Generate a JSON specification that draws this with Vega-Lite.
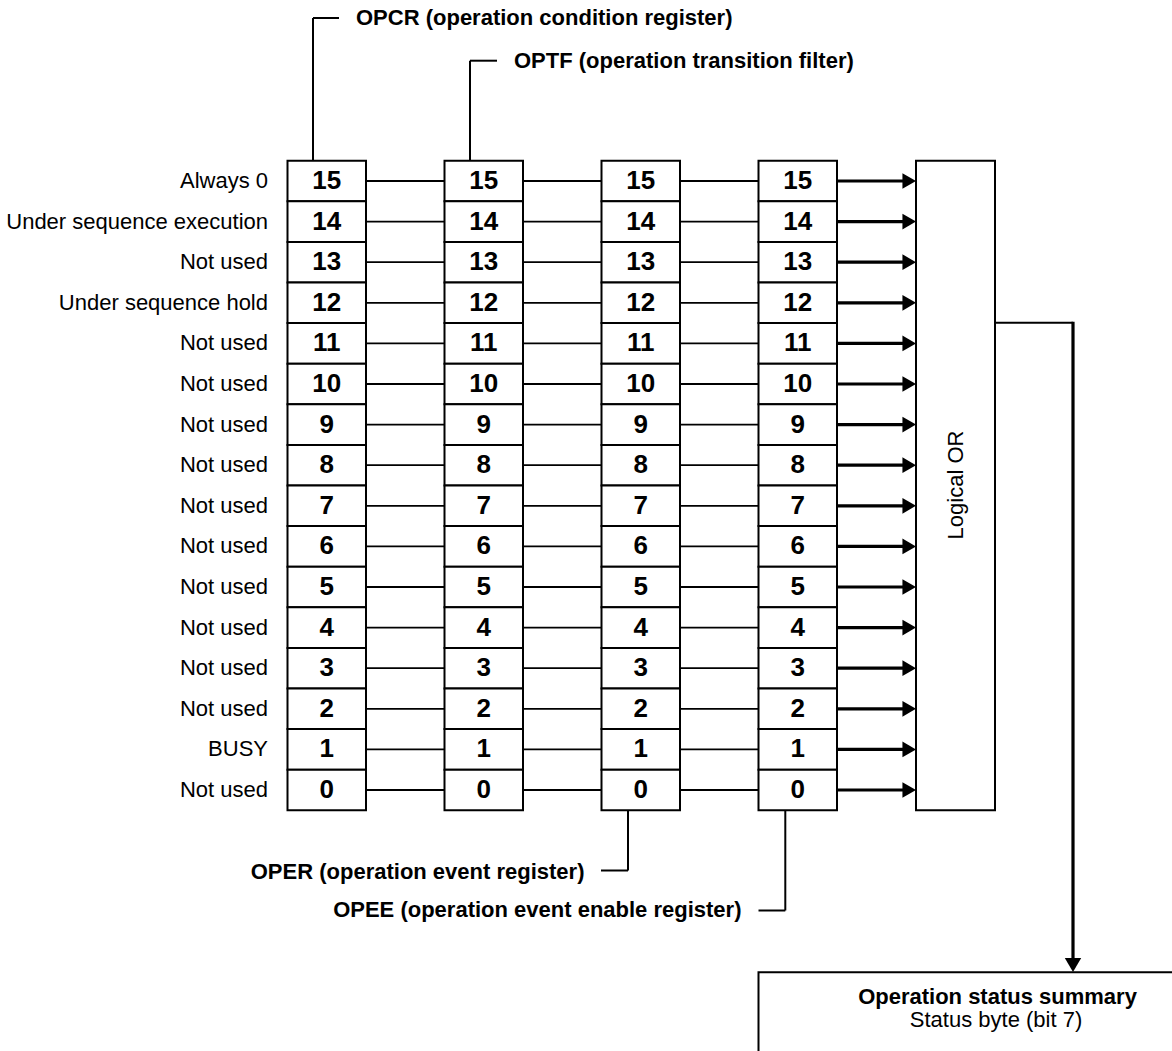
{
  "$schema": "https://vega.github.io/schema/vega-lite/v6.json",
  "width": 1172,
  "height": 1051,
  "padding": 0,
  "autosize": {"type": "none"},
  "background": "white",
  "config": {"view": {"stroke": null}, "text": {"font": "Liberation Sans", "color": "black"}},
  "datasets": {
    "cells": [
      {"reg":"OPCR","bit":"15","x":287.5,"x2":366,"y":160.7,"y2":201.3,"xc":326.8,"yc":181},
      {"reg":"OPCR","bit":"14","x":287.5,"x2":366,"y":201.3,"y2":241.9,"xc":326.8,"yc":221.6},
      {"reg":"OPCR","bit":"13","x":287.5,"x2":366,"y":241.9,"y2":282.5,"xc":326.8,"yc":262.2},
      {"reg":"OPCR","bit":"12","x":287.5,"x2":366,"y":282.5,"y2":323.1,"xc":326.8,"yc":302.8},
      {"reg":"OPCR","bit":"11","x":287.5,"x2":366,"y":323.1,"y2":363.7,"xc":326.8,"yc":343.4},
      {"reg":"OPCR","bit":"10","x":287.5,"x2":366,"y":363.7,"y2":404.3,"xc":326.8,"yc":384},
      {"reg":"OPCR","bit":"9","x":287.5,"x2":366,"y":404.3,"y2":444.9,"xc":326.8,"yc":424.6},
      {"reg":"OPCR","bit":"8","x":287.5,"x2":366,"y":444.9,"y2":485.5,"xc":326.8,"yc":465.2},
      {"reg":"OPCR","bit":"7","x":287.5,"x2":366,"y":485.5,"y2":526.1,"xc":326.8,"yc":505.8},
      {"reg":"OPCR","bit":"6","x":287.5,"x2":366,"y":526.1,"y2":566.7,"xc":326.8,"yc":546.4},
      {"reg":"OPCR","bit":"5","x":287.5,"x2":366,"y":566.7,"y2":607.3,"xc":326.8,"yc":587},
      {"reg":"OPCR","bit":"4","x":287.5,"x2":366,"y":607.3,"y2":647.9,"xc":326.8,"yc":627.6},
      {"reg":"OPCR","bit":"3","x":287.5,"x2":366,"y":647.9,"y2":688.5,"xc":326.8,"yc":668.2},
      {"reg":"OPCR","bit":"2","x":287.5,"x2":366,"y":688.5,"y2":729.1,"xc":326.8,"yc":708.8},
      {"reg":"OPCR","bit":"1","x":287.5,"x2":366,"y":729.1,"y2":769.7,"xc":326.8,"yc":749.4},
      {"reg":"OPCR","bit":"0","x":287.5,"x2":366,"y":769.7,"y2":810.3,"xc":326.8,"yc":790},
      {"reg":"OPTF","bit":"15","x":444.5,"x2":523,"y":160.7,"y2":201.3,"xc":483.8,"yc":181},
      {"reg":"OPTF","bit":"14","x":444.5,"x2":523,"y":201.3,"y2":241.9,"xc":483.8,"yc":221.6},
      {"reg":"OPTF","bit":"13","x":444.5,"x2":523,"y":241.9,"y2":282.5,"xc":483.8,"yc":262.2},
      {"reg":"OPTF","bit":"12","x":444.5,"x2":523,"y":282.5,"y2":323.1,"xc":483.8,"yc":302.8},
      {"reg":"OPTF","bit":"11","x":444.5,"x2":523,"y":323.1,"y2":363.7,"xc":483.8,"yc":343.4},
      {"reg":"OPTF","bit":"10","x":444.5,"x2":523,"y":363.7,"y2":404.3,"xc":483.8,"yc":384},
      {"reg":"OPTF","bit":"9","x":444.5,"x2":523,"y":404.3,"y2":444.9,"xc":483.8,"yc":424.6},
      {"reg":"OPTF","bit":"8","x":444.5,"x2":523,"y":444.9,"y2":485.5,"xc":483.8,"yc":465.2},
      {"reg":"OPTF","bit":"7","x":444.5,"x2":523,"y":485.5,"y2":526.1,"xc":483.8,"yc":505.8},
      {"reg":"OPTF","bit":"6","x":444.5,"x2":523,"y":526.1,"y2":566.7,"xc":483.8,"yc":546.4},
      {"reg":"OPTF","bit":"5","x":444.5,"x2":523,"y":566.7,"y2":607.3,"xc":483.8,"yc":587},
      {"reg":"OPTF","bit":"4","x":444.5,"x2":523,"y":607.3,"y2":647.9,"xc":483.8,"yc":627.6},
      {"reg":"OPTF","bit":"3","x":444.5,"x2":523,"y":647.9,"y2":688.5,"xc":483.8,"yc":668.2},
      {"reg":"OPTF","bit":"2","x":444.5,"x2":523,"y":688.5,"y2":729.1,"xc":483.8,"yc":708.8},
      {"reg":"OPTF","bit":"1","x":444.5,"x2":523,"y":729.1,"y2":769.7,"xc":483.8,"yc":749.4},
      {"reg":"OPTF","bit":"0","x":444.5,"x2":523,"y":769.7,"y2":810.3,"xc":483.8,"yc":790},
      {"reg":"OPER","bit":"15","x":601.5,"x2":680,"y":160.7,"y2":201.3,"xc":640.8,"yc":181},
      {"reg":"OPER","bit":"14","x":601.5,"x2":680,"y":201.3,"y2":241.9,"xc":640.8,"yc":221.6},
      {"reg":"OPER","bit":"13","x":601.5,"x2":680,"y":241.9,"y2":282.5,"xc":640.8,"yc":262.2},
      {"reg":"OPER","bit":"12","x":601.5,"x2":680,"y":282.5,"y2":323.1,"xc":640.8,"yc":302.8},
      {"reg":"OPER","bit":"11","x":601.5,"x2":680,"y":323.1,"y2":363.7,"xc":640.8,"yc":343.4},
      {"reg":"OPER","bit":"10","x":601.5,"x2":680,"y":363.7,"y2":404.3,"xc":640.8,"yc":384},
      {"reg":"OPER","bit":"9","x":601.5,"x2":680,"y":404.3,"y2":444.9,"xc":640.8,"yc":424.6},
      {"reg":"OPER","bit":"8","x":601.5,"x2":680,"y":444.9,"y2":485.5,"xc":640.8,"yc":465.2},
      {"reg":"OPER","bit":"7","x":601.5,"x2":680,"y":485.5,"y2":526.1,"xc":640.8,"yc":505.8},
      {"reg":"OPER","bit":"6","x":601.5,"x2":680,"y":526.1,"y2":566.7,"xc":640.8,"yc":546.4},
      {"reg":"OPER","bit":"5","x":601.5,"x2":680,"y":566.7,"y2":607.3,"xc":640.8,"yc":587},
      {"reg":"OPER","bit":"4","x":601.5,"x2":680,"y":607.3,"y2":647.9,"xc":640.8,"yc":627.6},
      {"reg":"OPER","bit":"3","x":601.5,"x2":680,"y":647.9,"y2":688.5,"xc":640.8,"yc":668.2},
      {"reg":"OPER","bit":"2","x":601.5,"x2":680,"y":688.5,"y2":729.1,"xc":640.8,"yc":708.8},
      {"reg":"OPER","bit":"1","x":601.5,"x2":680,"y":729.1,"y2":769.7,"xc":640.8,"yc":749.4},
      {"reg":"OPER","bit":"0","x":601.5,"x2":680,"y":769.7,"y2":810.3,"xc":640.8,"yc":790},
      {"reg":"OPEE","bit":"15","x":758.5,"x2":837,"y":160.7,"y2":201.3,"xc":797.8,"yc":181},
      {"reg":"OPEE","bit":"14","x":758.5,"x2":837,"y":201.3,"y2":241.9,"xc":797.8,"yc":221.6},
      {"reg":"OPEE","bit":"13","x":758.5,"x2":837,"y":241.9,"y2":282.5,"xc":797.8,"yc":262.2},
      {"reg":"OPEE","bit":"12","x":758.5,"x2":837,"y":282.5,"y2":323.1,"xc":797.8,"yc":302.8},
      {"reg":"OPEE","bit":"11","x":758.5,"x2":837,"y":323.1,"y2":363.7,"xc":797.8,"yc":343.4},
      {"reg":"OPEE","bit":"10","x":758.5,"x2":837,"y":363.7,"y2":404.3,"xc":797.8,"yc":384},
      {"reg":"OPEE","bit":"9","x":758.5,"x2":837,"y":404.3,"y2":444.9,"xc":797.8,"yc":424.6},
      {"reg":"OPEE","bit":"8","x":758.5,"x2":837,"y":444.9,"y2":485.5,"xc":797.8,"yc":465.2},
      {"reg":"OPEE","bit":"7","x":758.5,"x2":837,"y":485.5,"y2":526.1,"xc":797.8,"yc":505.8},
      {"reg":"OPEE","bit":"6","x":758.5,"x2":837,"y":526.1,"y2":566.7,"xc":797.8,"yc":546.4},
      {"reg":"OPEE","bit":"5","x":758.5,"x2":837,"y":566.7,"y2":607.3,"xc":797.8,"yc":587},
      {"reg":"OPEE","bit":"4","x":758.5,"x2":837,"y":607.3,"y2":647.9,"xc":797.8,"yc":627.6},
      {"reg":"OPEE","bit":"3","x":758.5,"x2":837,"y":647.9,"y2":688.5,"xc":797.8,"yc":668.2},
      {"reg":"OPEE","bit":"2","x":758.5,"x2":837,"y":688.5,"y2":729.1,"xc":797.8,"yc":708.8},
      {"reg":"OPEE","bit":"1","x":758.5,"x2":837,"y":729.1,"y2":769.7,"xc":797.8,"yc":749.4},
      {"reg":"OPEE","bit":"0","x":758.5,"x2":837,"y":769.7,"y2":810.3,"xc":797.8,"yc":790}
    ],
    "labels": [
      {"label":"Always 0","x":268,"y":181},
      {"label":"Under sequence execution","x":268,"y":221.6},
      {"label":"Not used","x":268,"y":262.2},
      {"label":"Under sequence hold","x":268,"y":302.8},
      {"label":"Not used","x":268,"y":343.4},
      {"label":"Not used","x":268,"y":384},
      {"label":"Not used","x":268,"y":424.6},
      {"label":"Not used","x":268,"y":465.2},
      {"label":"Not used","x":268,"y":505.8},
      {"label":"Not used","x":268,"y":546.4},
      {"label":"Not used","x":268,"y":587},
      {"label":"Not used","x":268,"y":627.6},
      {"label":"Not used","x":268,"y":668.2},
      {"label":"Not used","x":268,"y":708.8},
      {"label":"BUSY","x":268,"y":749.4},
      {"label":"Not used","x":268,"y":790}
    ],
    "links": [
      {"x":326.8,"x2":797.8,"y":181},{"x":326.8,"x2":797.8,"y":221.6},{"x":326.8,"x2":797.8,"y":262.2},{"x":326.8,"x2":797.8,"y":302.8},
      {"x":326.8,"x2":797.8,"y":343.4},{"x":326.8,"x2":797.8,"y":384},{"x":326.8,"x2":797.8,"y":424.6},{"x":326.8,"x2":797.8,"y":465.2},
      {"x":326.8,"x2":797.8,"y":505.8},{"x":326.8,"x2":797.8,"y":546.4},{"x":326.8,"x2":797.8,"y":587},{"x":326.8,"x2":797.8,"y":627.6},
      {"x":326.8,"x2":797.8,"y":668.2},{"x":326.8,"x2":797.8,"y":708.8},{"x":326.8,"x2":797.8,"y":749.4},{"x":326.8,"x2":797.8,"y":790}
    ],
    "arrows": [
      {"x":837,"x2":905,"y":181},{"x":837,"x2":905,"y":221.6},{"x":837,"x2":905,"y":262.2},{"x":837,"x2":905,"y":302.8},
      {"x":837,"x2":905,"y":343.4},{"x":837,"x2":905,"y":384},{"x":837,"x2":905,"y":424.6},{"x":837,"x2":905,"y":465.2},
      {"x":837,"x2":905,"y":505.8},{"x":837,"x2":905,"y":546.4},{"x":837,"x2":905,"y":587},{"x":837,"x2":905,"y":627.6},
      {"x":837,"x2":905,"y":668.2},{"x":837,"x2":905,"y":708.8},{"x":837,"x2":905,"y":749.4},{"x":837,"x2":905,"y":790}
    ],
    "heads": [
      {"x":909.2,"y":181},{"x":909.2,"y":221.6},{"x":909.2,"y":262.2},{"x":909.2,"y":302.8},
      {"x":909.2,"y":343.4},{"x":909.2,"y":384},{"x":909.2,"y":424.6},{"x":909.2,"y":465.2},
      {"x":909.2,"y":505.8},{"x":909.2,"y":546.4},{"x":909.2,"y":587},{"x":909.2,"y":627.6},
      {"x":909.2,"y":668.2},{"x":909.2,"y":708.8},{"x":909.2,"y":749.4},{"x":909.2,"y":790}
    ],
    "blocks": [
      {"name":"Logical OR","x":916,"x2":995,"y":160.7,"y2":810.3},
      {"name":"Operation status summary","x":758.5,"x2":1200,"y":972.3,"y2":1090}
    ],
    "leaders": [
      {"x":313,"x2":313,"y":160.7,"y2":18},
      {"x":313,"x2":339,"y":18,"y2":18},
      {"x":470,"x2":470,"y":160.7,"y2":60.7},
      {"x":470,"x2":497,"y":60.7,"y2":60.7},
      {"x":628,"x2":628,"y":810.3,"y2":870.5},
      {"x":601,"x2":628,"y":870.5,"y2":870.5},
      {"x":785.3,"x2":785.3,"y":810.3,"y2":910.5},
      {"x":758.5,"x2":785.3,"y":910.5,"y2":910.5},
      {"x":995,"x2":1073,"y":322.7,"y2":322.7}
    ],
    "bus": [{"x":1073,"x2":1073,"y":321.7,"y2":962}],
    "downhead": [{"x":1073,"y":965}],
    "titlesLeft": [
      {"text":"OPCR (operation condition register)","x":356,"y":18},
      {"text":"OPTF (operation transition filter)","x":514,"y":60.7}
    ],
    "titlesRight": [
      {"text":"OPER (operation event register)","x":584.5,"y":871.5},
      {"text":"OPEE (operation event enable register)","x":741.5,"y":910}
    ],
    "orText": [{"text":"Logical OR","x":955.5,"y":485}],
    "sumBold": [{"text":"Operation status summary","x":997.5,"y":997}],
    "sumPlain": [{"text":"Status byte (bit 7)","x":996,"y":1020}]
  },
  "encoding": {
    "x": {"field":"x","type":"quantitative","scale":{"domain":[0,1172],"nice":false,"zero":false},"axis":null},
    "y": {"field":"y","type":"quantitative","scale":{"domain":[0,1051],"nice":false,"zero":false,"reverse":true},"axis":null}
  },
  "layer": [
    {"data":{"name":"links"},"mark":{"type":"rule","color":"black","strokeWidth":1.8},"encoding":{"x2":{"field":"x2"}}},
    {"data":{"name":"cells"},"mark":{"type":"rect","fill":"white","stroke":"black","strokeWidth":2},"encoding":{"x2":{"field":"x2"},"y2":{"field":"y2"}}},
    {"data":{"name":"cells"},"mark":{"type":"text","fontSize":26,"fontWeight":"bold","align":"center","baseline":"middle"},"encoding":{"x":{"field":"xc","type":"quantitative"},"y":{"field":"yc","type":"quantitative"},"text":{"field":"bit","type":"nominal"}}},
    {"data":{"name":"blocks"},"mark":{"type":"rect","fill":"white","stroke":"black","strokeWidth":2,"clip":true},"encoding":{"x2":{"field":"x2"},"y2":{"field":"y2"}}},
    {"data":{"name":"leaders"},"mark":{"type":"rule","color":"black","strokeWidth":2},"encoding":{"x2":{"field":"x2"},"y2":{"field":"y2"}}},
    {"data":{"name":"arrows"},"mark":{"type":"rule","color":"black","strokeWidth":3.2},"encoding":{"x2":{"field":"x2"}}},
    {"data":{"name":"bus"},"mark":{"type":"rule","color":"black","strokeWidth":3.2},"encoding":{"x2":{"field":"x2"},"y2":{"field":"y2"}}},
    {"data":{"name":"heads"},"mark":{"type":"point","shape":"triangle-right","size":245,"filled":true,"color":"black","opacity":1,"strokeWidth":0}},
    {"data":{"name":"downhead"},"mark":{"type":"point","shape":"triangle-down","size":270,"filled":true,"color":"black","opacity":1,"strokeWidth":0}},
    {"data":{"name":"labels"},"mark":{"type":"text","fontSize":22,"align":"right","baseline":"middle"},"encoding":{"text":{"field":"label","type":"nominal"}}},
    {"data":{"name":"titlesLeft"},"mark":{"type":"text","fontSize":22,"fontWeight":"bold","align":"left","baseline":"middle"},"encoding":{"text":{"field":"text","type":"nominal"}}},
    {"data":{"name":"titlesRight"},"mark":{"type":"text","fontSize":22,"fontWeight":"bold","align":"right","baseline":"middle"},"encoding":{"text":{"field":"text","type":"nominal"}}},
    {"data":{"name":"orText"},"mark":{"type":"text","fontSize":22,"align":"center","baseline":"middle","angle":270},"encoding":{"text":{"field":"text","type":"nominal"}}},
    {"data":{"name":"sumBold"},"mark":{"type":"text","fontSize":22,"fontWeight":"bold","align":"center","baseline":"middle"},"encoding":{"text":{"field":"text","type":"nominal"}}},
    {"data":{"name":"sumPlain"},"mark":{"type":"text","fontSize":22,"align":"center","baseline":"middle"},"encoding":{"text":{"field":"text","type":"nominal"}}}
  ]
}
